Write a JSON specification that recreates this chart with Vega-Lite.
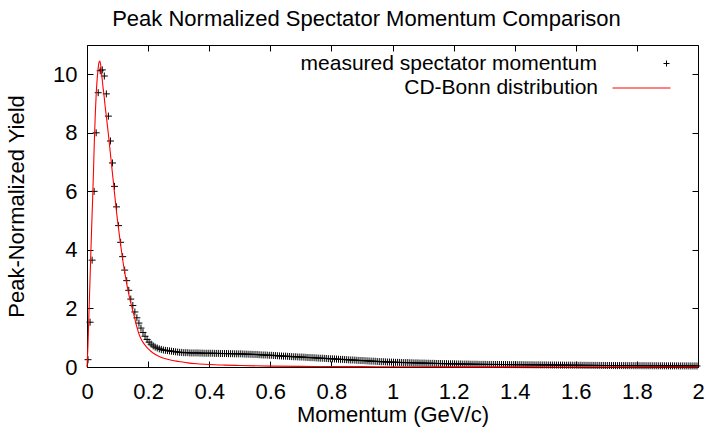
{
"$schema": "https://vega.github.io/schema/vega-lite/v6.json",
"width": 611,
"height": 322,
"autosize": {"type": "none"},
"padding": {"left": 87, "top": 45, "right": 8, "bottom": 65},
"background": "white",
"title": {"text": "Peak Normalized Spectator Momentum Comparison", "font": "Liberation Sans", "fontSize": 22, "fontWeight": "normal", "color": "#000000", "offset": 14, "dx": -26},
"config": {
  "view": {"stroke": "#000000", "strokeWidth": 1},
  "axis": {"grid": false, "domain": false, "tickColor": "#000000", "tickSize": -6, "tickWidth": 1, "labelColor": "#000000", "labelFont": "Liberation Sans", "labelFontSize": 22, "titleFont": "Liberation Sans", "titleFontSize": 22, "titleFontWeight": "normal", "titleColor": "#000000"},
  "legend": {"orient": "none", "title": null, "padding": 0, "rowPadding": 0, "labelAlign": "right", "labelLimit": 600, "labelFont": "Liberation Sans", "labelFontSize": 21, "labelColor": "#000000"}
},
"datasets": {
"meas": [
{"p":0.0033,"v":0.25},{"p":0.01,"v":1.53},{"p":0.0167,"v":3.65},{"p":0.0233,"v":6.0},{"p":0.03,"v":8.0},{"p":0.0367,"v":9.37},{"p":0.0433,"v":10.12},{"p":0.05,"v":10.15},{"p":0.0567,"v":9.94},{"p":0.0633,"v":9.33},
{"p":0.07,"v":8.57},{"p":0.0767,"v":7.72},{"p":0.0833,"v":6.97},{"p":0.09,"v":6.17},{"p":0.0967,"v":5.47},{"p":0.1033,"v":4.83},{"p":0.11,"v":4.26},{"p":0.1167,"v":3.77},{"p":0.1233,"v":3.31},{"p":0.13,"v":2.95},
{"p":0.1367,"v":2.62},{"p":0.1433,"v":2.32},{"p":0.15,"v":2.1},{"p":0.1567,"v":1.88},{"p":0.1633,"v":1.68},{"p":0.17,"v":1.5},{"p":0.1767,"v":1.33},{"p":0.1833,"v":1.18},{"p":0.19,"v":1.05},{"p":0.1967,"v":0.94},
{"p":0.2033,"v":0.85},{"p":0.21,"v":0.78},{"p":0.2167,"v":0.72},{"p":0.2233,"v":0.68},{"p":0.23,"v":0.65},{"p":0.2367,"v":0.62},{"p":0.2433,"v":0.6},{"p":0.25,"v":0.58},{"p":0.2567,"v":0.57},{"p":0.2633,"v":0.56},
{"p":0.27,"v":0.55},{"p":0.2767,"v":0.54},{"p":0.2833,"v":0.53},{"p":0.29,"v":0.52},{"p":0.2967,"v":0.51},{"p":0.3033,"v":0.5},{"p":0.31,"v":0.5},{"p":0.3167,"v":0.49},{"p":0.3233,"v":0.49},{"p":0.33,"v":0.49},
{"p":0.3367,"v":0.48},{"p":0.3433,"v":0.48},{"p":0.35,"v":0.48},{"p":0.3567,"v":0.48},{"p":0.3633,"v":0.48},{"p":0.37,"v":0.475},{"p":0.3767,"v":0.475},{"p":0.3833,"v":0.47},{"p":0.39,"v":0.47},{"p":0.3967,"v":0.47},
{"p":0.4033,"v":0.47},{"p":0.41,"v":0.47},{"p":0.4167,"v":0.465},{"p":0.4233,"v":0.465},{"p":0.43,"v":0.465},{"p":0.4367,"v":0.46},{"p":0.4433,"v":0.46},{"p":0.45,"v":0.46},{"p":0.4567,"v":0.46},{"p":0.4633,"v":0.455},
{"p":0.47,"v":0.455},{"p":0.4767,"v":0.455},{"p":0.4833,"v":0.45},{"p":0.49,"v":0.45},{"p":0.4967,"v":0.45},{"p":0.5033,"v":0.45},{"p":0.51,"v":0.445},{"p":0.5167,"v":0.44},{"p":0.5233,"v":0.44},{"p":0.53,"v":0.435},
{"p":0.5367,"v":0.435},{"p":0.5433,"v":0.43},{"p":0.55,"v":0.43},{"p":0.5567,"v":0.425},{"p":0.5633,"v":0.42},{"p":0.57,"v":0.415},{"p":0.5767,"v":0.41},{"p":0.5833,"v":0.41},{"p":0.59,"v":0.405},{"p":0.5967,"v":0.4},
{"p":0.6033,"v":0.4},{"p":0.61,"v":0.395},{"p":0.6167,"v":0.39},{"p":0.6233,"v":0.385},{"p":0.63,"v":0.38},{"p":0.6367,"v":0.375},{"p":0.6433,"v":0.37},{"p":0.65,"v":0.37},{"p":0.6567,"v":0.365},{"p":0.6633,"v":0.36},
{"p":0.67,"v":0.355},{"p":0.6767,"v":0.35},{"p":0.6833,"v":0.35},{"p":0.69,"v":0.345},{"p":0.6967,"v":0.34},{"p":0.7033,"v":0.34},{"p":0.71,"v":0.335},{"p":0.7167,"v":0.33},{"p":0.7233,"v":0.325},{"p":0.73,"v":0.32},
{"p":0.7367,"v":0.32},{"p":0.7433,"v":0.315},{"p":0.75,"v":0.31},{"p":0.7567,"v":0.305},{"p":0.7633,"v":0.3},{"p":0.77,"v":0.3},{"p":0.7767,"v":0.295},{"p":0.7833,"v":0.29},{"p":0.79,"v":0.285},{"p":0.7967,"v":0.28},
{"p":0.8033,"v":0.28},{"p":0.81,"v":0.275},{"p":0.8167,"v":0.27},{"p":0.8233,"v":0.265},{"p":0.83,"v":0.26},{"p":0.8367,"v":0.26},{"p":0.8433,"v":0.255},{"p":0.85,"v":0.25},{"p":0.8567,"v":0.245},{"p":0.8633,"v":0.24},
{"p":0.87,"v":0.24},{"p":0.8767,"v":0.235},{"p":0.8833,"v":0.23},{"p":0.89,"v":0.225},{"p":0.8967,"v":0.22},{"p":0.9033,"v":0.22},{"p":0.91,"v":0.215},{"p":0.9167,"v":0.21},{"p":0.9233,"v":0.205},{"p":0.93,"v":0.2},
{"p":0.9367,"v":0.2},{"p":0.9433,"v":0.195},{"p":0.95,"v":0.19},{"p":0.9567,"v":0.185},{"p":0.9633,"v":0.18},{"p":0.97,"v":0.18},{"p":0.9767,"v":0.175},{"p":0.9833,"v":0.17},{"p":0.99,"v":0.17},{"p":0.9967,"v":0.165},
{"p":1.0033,"v":0.165},{"p":1.01,"v":0.16},{"p":1.0167,"v":0.16},{"p":1.0233,"v":0.155},{"p":1.03,"v":0.155},{"p":1.0367,"v":0.15},{"p":1.0433,"v":0.15},{"p":1.05,"v":0.15},{"p":1.0567,"v":0.145},{"p":1.0633,"v":0.145},
{"p":1.07,"v":0.14},{"p":1.0767,"v":0.14},{"p":1.0833,"v":0.14},{"p":1.09,"v":0.135},{"p":1.0967,"v":0.135},{"p":1.1033,"v":0.135},{"p":1.11,"v":0.13},{"p":1.1167,"v":0.13},{"p":1.1233,"v":0.125},{"p":1.13,"v":0.125},
{"p":1.1367,"v":0.125},{"p":1.1433,"v":0.12},{"p":1.15,"v":0.12},{"p":1.1567,"v":0.12},{"p":1.1633,"v":0.115},{"p":1.17,"v":0.115},{"p":1.1767,"v":0.115},{"p":1.1833,"v":0.11},{"p":1.19,"v":0.11},{"p":1.1967,"v":0.11},
{"p":1.2033,"v":0.11},{"p":1.21,"v":0.105},{"p":1.2167,"v":0.105},{"p":1.2233,"v":0.105},{"p":1.23,"v":0.1},{"p":1.2367,"v":0.1},{"p":1.2433,"v":0.1},{"p":1.25,"v":0.1},{"p":1.2567,"v":0.095},{"p":1.2633,"v":0.095},
{"p":1.27,"v":0.095},{"p":1.2767,"v":0.095},{"p":1.2833,"v":0.09},{"p":1.29,"v":0.09},{"p":1.2967,"v":0.09},{"p":1.3033,"v":0.09},{"p":1.31,"v":0.088},{"p":1.3167,"v":0.088},{"p":1.3233,"v":0.087},{"p":1.33,"v":0.087},
{"p":1.3367,"v":0.086},{"p":1.3433,"v":0.086},{"p":1.35,"v":0.085},{"p":1.3567,"v":0.085},{"p":1.3633,"v":0.084},{"p":1.37,"v":0.083},{"p":1.3767,"v":0.083},{"p":1.3833,"v":0.082},{"p":1.39,"v":0.081},{"p":1.3967,"v":0.081},
{"p":1.4033,"v":0.08},{"p":1.41,"v":0.079},{"p":1.4167,"v":0.079},{"p":1.4233,"v":0.078},{"p":1.43,"v":0.077},{"p":1.4367,"v":0.077},{"p":1.4433,"v":0.076},{"p":1.45,"v":0.075},{"p":1.4567,"v":0.075},{"p":1.4633,"v":0.074},
{"p":1.47,"v":0.073},{"p":1.4767,"v":0.073},{"p":1.4833,"v":0.072},{"p":1.49,"v":0.071},{"p":1.4967,"v":0.071},{"p":1.5033,"v":0.07},{"p":1.51,"v":0.069},{"p":1.5167,"v":0.069},{"p":1.5233,"v":0.068},{"p":1.53,"v":0.067},
{"p":1.5367,"v":0.067},{"p":1.5433,"v":0.066},{"p":1.55,"v":0.065},{"p":1.5567,"v":0.065},{"p":1.5633,"v":0.064},{"p":1.57,"v":0.063},{"p":1.5767,"v":0.063},{"p":1.5833,"v":0.062},{"p":1.59,"v":0.061},{"p":1.5967,"v":0.061},
{"p":1.6033,"v":0.06},{"p":1.61,"v":0.059},{"p":1.6167,"v":0.059},{"p":1.6233,"v":0.058},{"p":1.63,"v":0.057},{"p":1.6367,"v":0.057},{"p":1.6433,"v":0.056},{"p":1.65,"v":0.055},{"p":1.6567,"v":0.055},{"p":1.6633,"v":0.054},
{"p":1.67,"v":0.053},{"p":1.6767,"v":0.053},{"p":1.6833,"v":0.052},{"p":1.69,"v":0.051},{"p":1.6967,"v":0.051},{"p":1.7033,"v":0.05},{"p":1.71,"v":0.05},{"p":1.7167,"v":0.049},{"p":1.7233,"v":0.049},{"p":1.73,"v":0.048},
{"p":1.7367,"v":0.048},{"p":1.7433,"v":0.048},{"p":1.75,"v":0.047},{"p":1.7567,"v":0.047},{"p":1.7633,"v":0.047},{"p":1.77,"v":0.046},{"p":1.7767,"v":0.046},{"p":1.7833,"v":0.046},{"p":1.79,"v":0.045},{"p":1.7967,"v":0.045},
{"p":1.8033,"v":0.045},{"p":1.81,"v":0.044},{"p":1.8167,"v":0.044},{"p":1.8233,"v":0.044},{"p":1.83,"v":0.043},{"p":1.8367,"v":0.043},{"p":1.8433,"v":0.043},{"p":1.85,"v":0.042},{"p":1.8567,"v":0.042},{"p":1.8633,"v":0.042},
{"p":1.87,"v":0.041},{"p":1.8767,"v":0.041},{"p":1.8833,"v":0.041},{"p":1.89,"v":0.04},{"p":1.8967,"v":0.04},{"p":1.9033,"v":0.04},{"p":1.91,"v":0.04},{"p":1.9167,"v":0.039},{"p":1.9233,"v":0.039},{"p":1.93,"v":0.039},
{"p":1.9367,"v":0.038},{"p":1.9433,"v":0.038},{"p":1.95,"v":0.038},{"p":1.9567,"v":0.037},{"p":1.9633,"v":0.037},{"p":1.97,"v":0.037},{"p":1.9767,"v":0.036},{"p":1.9833,"v":0.036},{"p":1.99,"v":0.036},{"p":1.9967,"v":0.035}
],
"bonn": [
{"p":0,"v":0},{"p":0.003,"v":0.7},{"p":0.006,"v":1.7},{"p":0.009,"v":2.7},{"p":0.012,"v":3.7},{"p":0.015,"v":4.7},{"p":0.018,"v":5.6},{"p":0.021,"v":6.6},{"p":0.024,"v":7.7},{"p":0.027,"v":8.6},
{"p":0.03,"v":9.3},{"p":0.033,"v":9.8},{"p":0.036,"v":10.15},{"p":0.039,"v":10.4},{"p":0.042,"v":10.45},{"p":0.045,"v":10.3},{"p":0.048,"v":10.0},{"p":0.052,"v":9.6},{"p":0.056,"v":9.25},{"p":0.06,"v":8.85},
{"p":0.064,"v":8.5},{"p":0.07,"v":7.95},{"p":0.075,"v":7.45},{"p":0.08,"v":6.95},{"p":0.085,"v":6.45},{"p":0.09,"v":5.95},{"p":0.095,"v":5.45},{"p":0.1,"v":5.0},{"p":0.105,"v":4.58},{"p":0.11,"v":4.18},
{"p":0.115,"v":3.8},{"p":0.12,"v":3.45},{"p":0.125,"v":3.15},{"p":0.13,"v":2.85},{"p":0.135,"v":2.58},{"p":0.14,"v":2.33},{"p":0.145,"v":2.12},{"p":0.15,"v":1.92},{"p":0.155,"v":1.72},{"p":0.16,"v":1.5},
{"p":0.165,"v":1.3},{"p":0.17,"v":1.13},{"p":0.175,"v":1.0},{"p":0.18,"v":0.9},{"p":0.19,"v":0.75},{"p":0.2,"v":0.63},{"p":0.21,"v":0.53},{"p":0.22,"v":0.45},{"p":0.23,"v":0.39},{"p":0.24,"v":0.34},
{"p":0.26,"v":0.27},{"p":0.28,"v":0.22},{"p":0.3,"v":0.19},{"p":0.33,"v":0.14},{"p":0.36,"v":0.11},{"p":0.4,"v":0.085},{"p":0.45,"v":0.065},{"p":0.5,"v":0.05},{"p":0.6,"v":0.03},{"p":0.7,"v":0.022},
{"p":0.8,"v":0.016},{"p":0.9,"v":0.012},{"p":1.0,"v":0.009},{"p":1.2,"v":0.005},{"p":1.4,"v":0.003},{"p":1.6,"v":0.002},{"p":1.8,"v":0.001},{"p":2.0,"v":0.0005}
]
},
"layer": [
{
  "data": {"name": "meas"},
  "mark": {"type": "point", "shape": "M-1,0H1M0,-1V1", "filled": false, "size": 49, "strokeWidth": 1, "opacity": 1},
  "encoding": {
    "x": {"field": "p", "type": "quantitative", "scale": {"domain": [0, 2], "nice": false, "zero": false},
          "axis": {"orient": "bottom", "values": [0,0.2,0.4,0.6,0.8,1,1.2,1.4,1.6,1.8,2], "format": ".1~f", "labelPadding": 20, "title": "Momentum (GeV/c)", "titlePadding": 2, "labelFlush": false}},
    "y": {"field": "v", "type": "quantitative", "scale": {"domain": [0, 11], "nice": false, "zero": false},
          "axis": {"orient": "left", "values": [0,2,4,6,8,10], "labelPadding": 16, "title": "Peak-Normalized Yield", "titlePadding": 24, "labelFlush": false}},
    "color": {"datum": "measured spectator momentum", "type": "nominal",
      "scale": {"domain": ["measured spectator momentum"], "range": ["#000000"]},
      "legend": {"legendX": 569, "legendY": 8, "labelOffset": -80, "symbolSize": 36, "symbolStrokeWidth": 1, "symbolType": "M-1,0H1M0,-1V1"}}
  }
},
{
  "data": {"name": "bonn"},
  "mark": {"type": "line", "strokeWidth": 1.1, "interpolate": "monotone"},
  "encoding": {
    "x": {"field": "p", "type": "quantitative", "scale": {"domain": [0, 2], "nice": false, "zero": false},
          "axis": {"orient": "top", "values": [0,0.2,0.4,0.6,0.8,1,1.2,1.4,1.6,1.8,2], "labels": false, "title": null}},
    "y": {"field": "v", "type": "quantitative", "scale": {"domain": [0, 11], "nice": false, "zero": false},
          "axis": {"orient": "right", "values": [0,2,4,6,8,10], "labels": false, "title": null}},
    "stroke": {"datum": "CD-Bonn distribution", "type": "nominal",
      "scale": {"domain": ["CD-Bonn distribution"], "range": ["#ff0000"]},
      "legend": {"legendX": 525, "legendY": 13.5, "labelOffset": -73, "symbolSize": 3364, "symbolStrokeWidth": 1, "symbolType": "stroke"}}
  }
}
],
"resolve": {"axis": {"x": "independent", "y": "independent"}}
}
